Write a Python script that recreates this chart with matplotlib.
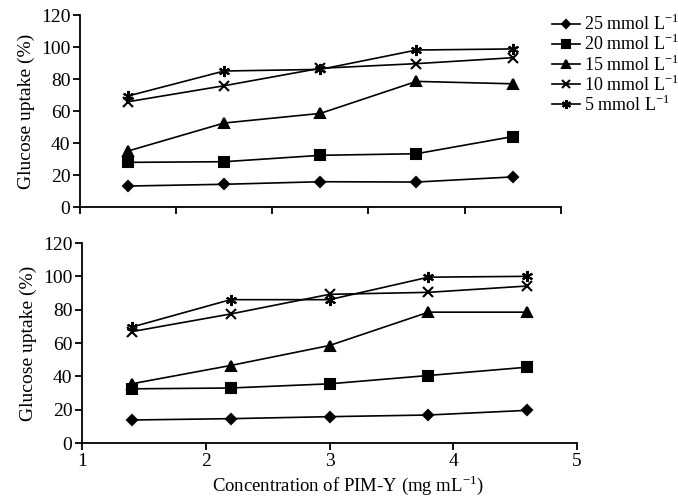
import matplotlib.pyplot as plt
import numpy as np

plt.rcParams['font.family'] = ['Liberation Serif', 'DejaVu Serif']
plt.rcParams['mathtext.fontset'] = 'custom'
plt.rcParams['mathtext.rm'] = 'Liberation Serif'

labels = ["25 mmol L$^{-1}$", "20 mmol L$^{-1}$", "15 mmol L$^{-1}$",
          "10 mmol L$^{-1}$", "5 mmol L$^{-1}$"]
markers = ['D', 's', '^', 'x', (6, 2, 0)]
msizes = [5, 7, 7, 7, 8]

# top panel (category axis, 5 doses)
top_25 = [13.1, 14.2, 15.8, 15.6, 18.8]
top_20 = [27.9, 28.3, 32.3, 33.3, 44.0]
top_15 = [35.0, 52.5, 58.5, 78.5, 77.0]
top_10 = [65.8, 75.8, 86.7, 89.6, 93.3]
top_5 = [69.4, 85.0, 86.0, 98.1, 98.8]

# bottom panel (numeric axis)
conc = [1.4, 2.2, 3.0, 3.8, 4.6]
bot_25 = [13.8, 14.6, 15.8, 16.8, 19.6]
bot_20 = [32.5, 33.0, 35.5, 40.5, 45.5]
bot_15 = [35.5, 46.5, 58.5, 78.5, 78.5]
bot_10 = [66.8, 77.4, 89.2, 90.4, 94.2]
bot_5 = [69.5, 86.0, 86.0, 99.5, 100.0]

top_series = [top_25, top_20, top_15, top_10, top_5]
bot_series = [bot_25, bot_20, bot_15, bot_10, bot_5]

fig = plt.figure(figsize=(6.78, 5), dpi=100)
ax1 = fig.add_axes([0.118, 0.586, 0.709, 0.384])
ax2 = fig.add_axes([0.121, 0.114, 0.730, 0.400])

cat = np.arange(len(top_25))
handles = []
for ys, m, ms, lab in zip(top_series, markers, msizes, labels):
    h, = ax1.plot(cat, ys, color='black', lw=1.2, marker=m, ms=ms,
                  mew=1.5, label=lab)
    handles.append(h)
ax1.set_xlim(-0.5, 4.5)
ax1.set_xticks(np.arange(-0.5, 5, 1))
ax1.set_xticklabels([])

for ys, m, ms in zip(bot_series, markers, msizes):
    ax2.plot(conc, ys, color='black', lw=1.2, marker=m, ms=ms, mew=1.5)
ax2.set_xlim(1, 5)
ax2.set_xticks([1, 2, 3, 4, 5])
ax2.set_xlabel("Concentration of PIM-Y (mg mL$^{-1}$)", fontsize=13.5)
ax2.xaxis.set_label_coords(0.538, -0.15)

for ax in (ax1, ax2):
    ax.set_ylim(0, 120)
    ax.set_yticks(range(0, 121, 20))
    ax.set_ylabel("Glucose uptake (%)", fontsize=14, labelpad=4)
    ax.spines['top'].set_visible(False)
    ax.spines['right'].set_visible(False)
    ax.spines['left'].set_linewidth(1.3)
    ax.spines['bottom'].set_linewidth(1.3)
    ax.tick_params(direction='out', length=5, width=1.3, labelsize=14, pad=2)

fig.legend(handles=handles, loc='upper left', bbox_to_anchor=(0.804, 0.986),
           frameon=False, fontsize=13, handlelength=1.55, handletextpad=0.2,
           labelspacing=0.0, borderaxespad=0, borderpad=0.4, markerscale=0.8)

fig.savefig("out.png", dpi=100)
